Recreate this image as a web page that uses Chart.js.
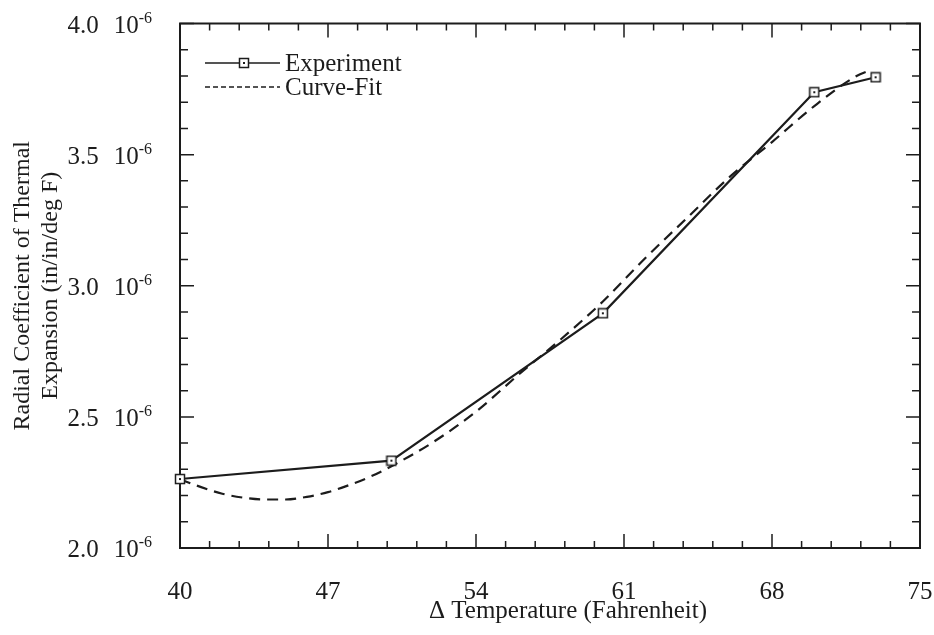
<!DOCTYPE html>
<html>
<head>
<meta charset="utf-8">
<script src="https://cdn.jsdelivr.net/npm/chart.js@4.4.0/dist/chart.umd.min.js"></script>
<style>
  html, body { margin: 0; padding: 0; background: #fff; }
  #wrap { width: 934px; height: 635px; }
</style>
</head>
<body>
<div id="wrap"><canvas id="chart"></canvas></div>
<script>
// values; y is in units of 1e-6 in/in/deg F
const expTemps = [40, 50, 60, 70, 72.9];
const expValues = [2.263, 2.333, 2.895, 3.738, 3.795];

const fitTemps = [40, 41, 42, 43, 44, 45, 46, 47, 48, 49, 50, 52, 54, 56, 58, 60, 62, 64, 66, 68, 70, 72, 72.6];
const fitValues = [2.262, 2.232, 2.207, 2.192, 2.185, 2.185, 2.195, 2.213, 2.240, 2.272, 2.312, 2.405, 2.52, 2.66, 2.795, 2.94, 3.105, 3.26, 3.415, 3.548, 3.685, 3.80, 3.82];

const xTicks = [40, 47, 54, 61, 68, 75];
const yTicks = [2.0, 2.5, 3.0, 3.5, 4.0];
const seriesNames = ['Experiment', 'Curve-Fit'];
const xTitle = '\u0394 Temperature (Fahrenheit)';

const INK = '#1c1c1c';
const FONT = '"Liberation Serif", "Times New Roman", serif';

// little square with a dot in the middle, like the scanned markers
function squareMarker() {
    const c = document.createElement('canvas');
    c.width = 12; c.height = 12;
    const g = c.getContext('2d');
    g.fillStyle = '#fff';
    g.fillRect(1, 1, 10, 10);
    g.strokeStyle = INK;
    g.lineWidth = 1.5;
    g.strokeRect(1.5, 1.5, 9, 9);
    g.fillStyle = INK;
    g.fillRect(5, 5, 2, 2);
    return c;
}
const marker = squareMarker();

const framePlugin = {
    id: 'frame',
    beforeDatasetsDraw(chart) {
        // frame goes under the data so the first marker sits on top of the axis
        const { ctx, chartArea: a } = chart;
        ctx.save();
        ctx.strokeStyle = INK;
        ctx.lineWidth = 2;
        ctx.strokeRect(a.left, a.top, a.right - a.left, a.bottom - a.top);
        ctx.restore();
    },
    afterDraw(chart) {
        const { ctx, chartArea: a, scales: { x, y } } = chart;
        ctx.save();
        ctx.strokeStyle = INK;

        // inward tick marks on all four sides, 4 minor between majors
        ctx.lineWidth = 1.5;
        ctx.beginPath();
        for (let i = 0; i < xTicks.length; i++) {
            const px = x.getPixelForValue(xTicks[i]);
            ctx.moveTo(px, a.bottom); ctx.lineTo(px, a.bottom - 14);
            ctx.moveTo(px, a.top); ctx.lineTo(px, a.top + 14);
            if (i < xTicks.length - 1) {
                const step = (xTicks[i + 1] - xTicks[i]) / 5;
                for (let k = 1; k < 5; k++) {
                    const mx = x.getPixelForValue(xTicks[i] + k * step);
                    ctx.moveTo(mx, a.bottom); ctx.lineTo(mx, a.bottom - 7);
                    ctx.moveTo(mx, a.top); ctx.lineTo(mx, a.top + 7);
                }
            }
        }
        for (let i = 0; i < yTicks.length; i++) {
            const py = y.getPixelForValue(yTicks[i]);
            ctx.moveTo(a.left, py); ctx.lineTo(a.left + 14, py);
            ctx.moveTo(a.right, py); ctx.lineTo(a.right - 14, py);
            if (i < yTicks.length - 1) {
                const step = (yTicks[i + 1] - yTicks[i]) / 5;
                for (let k = 1; k < 5; k++) {
                    const my = y.getPixelForValue(yTicks[i] + k * step);
                    ctx.moveTo(a.left, my); ctx.lineTo(a.left + 8, my);
                    ctx.moveTo(a.right, my); ctx.lineTo(a.right - 8, my);
                }
            }
        }
        ctx.stroke();

        // y tick labels "2.0  10^-6"
        ctx.fillStyle = INK;
        ctx.textBaseline = 'alphabetic';
        ctx.textAlign = 'right';
        const rightEdge = 152;
        yTicks.forEach(v => {
            const py = y.getPixelForValue(v);
            ctx.font = '16px ' + FONT;
            const supW = ctx.measureText('-6').width;
            ctx.fillText('-6', rightEdge, py - 1);
            ctx.font = '25px ' + FONT;
            const tenW = ctx.measureText('10').width;
            ctx.fillText('10', rightEdge - supW, py + 9);
            ctx.fillText(v.toFixed(1), rightEdge - supW - tenW - 15, py + 9);
        });

        // x axis title sits a bit right of centre in the original
        ctx.textAlign = 'center';
        ctx.textBaseline = 'alphabetic';
        ctx.font = '25px ' + FONT;
        ctx.fillText(xTitle, 568, 618);

        // legend in the upper left corner
        ctx.textAlign = 'left';
        ctx.textBaseline = 'middle';
        ctx.lineWidth = 1.5;
        ctx.beginPath();
        ctx.moveTo(205, 63); ctx.lineTo(280, 63);
        ctx.stroke();
        ctx.drawImage(marker, 244 - 6, 63 - 6);
        ctx.fillText(seriesNames[0], 285, 64);
        ctx.setLineDash([5, 3]);
        ctx.beginPath();
        ctx.moveTo(205, 87); ctx.lineTo(280, 87);
        ctx.stroke();
        ctx.setLineDash([]);
        ctx.fillText(seriesNames[1], 285, 88);
        ctx.restore();
    }
};

const ctx = document.getElementById('chart').getContext('2d');
new Chart(ctx, {
    type: 'line',
    data: {
        datasets: [{
            label: seriesNames[0],
            data: expTemps.map((t, i) => ({ x: t, y: expValues[i] })),
            borderColor: INK,
            borderWidth: 2.2,
            tension: 0,
            pointStyle: marker,
            pointRadius: 6,
            clip: false
        }, {
            label: seriesNames[1],
            data: fitTemps.map((t, i) => ({ x: t, y: fitValues[i] })),
            borderColor: INK,
            borderWidth: 2.2,
            borderDash: [11, 7],
            cubicInterpolationMode: 'monotone',
            pointRadius: 0
        }]
    },
    options: {
        responsive: true,
        maintainAspectRatio: false,
        animation: false,
        devicePixelRatio: 1,
        layout: { padding: { top: 23.5, right: 14, left: 0, bottom: 0 } },
        plugins: {
            legend: { display: false },
            tooltip: { enabled: false }
        },
        scales: {
            x: {
                type: 'linear',
                min: 40,
                max: 75,
                afterBuildTicks: scale => { scale.ticks = xTicks.map(v => ({ value: v })); },
                afterFit: scale => {
                    scale.height = 87;
                    scale.paddingLeft = 0;
                    scale.paddingRight = 0;
                },
                grid: { display: false, drawTicks: false },
                border: { display: false },
                ticks: {
                    color: INK,
                    font: { family: FONT, size: 25 },
                    padding: 29,
                    maxRotation: 0
                },
                title: { display: false }
            },
            y: {
                type: 'linear',
                min: 2.0,
                max: 4.0,
                afterBuildTicks: scale => { scale.ticks = yTicks.map(v => ({ value: v })); },
                afterFit: scale => {
                    scale.width = 180;
                    scale.paddingTop = 0;
                    scale.paddingBottom = 0;
                },
                grid: { display: false, drawTicks: false },
                border: { display: false },
                ticks: { display: false },
                title: {
                    display: true,
                    text: ['Radial Coefficient of Thermal', 'Expansion (in/in/deg F)'],
                    color: INK,
                    font: { family: FONT, size: 24 },
                    padding: { top: 8, bottom: 0 }
                }
            }
        }
    },
    plugins: [framePlugin]
});
</script>
</body>
</html>
